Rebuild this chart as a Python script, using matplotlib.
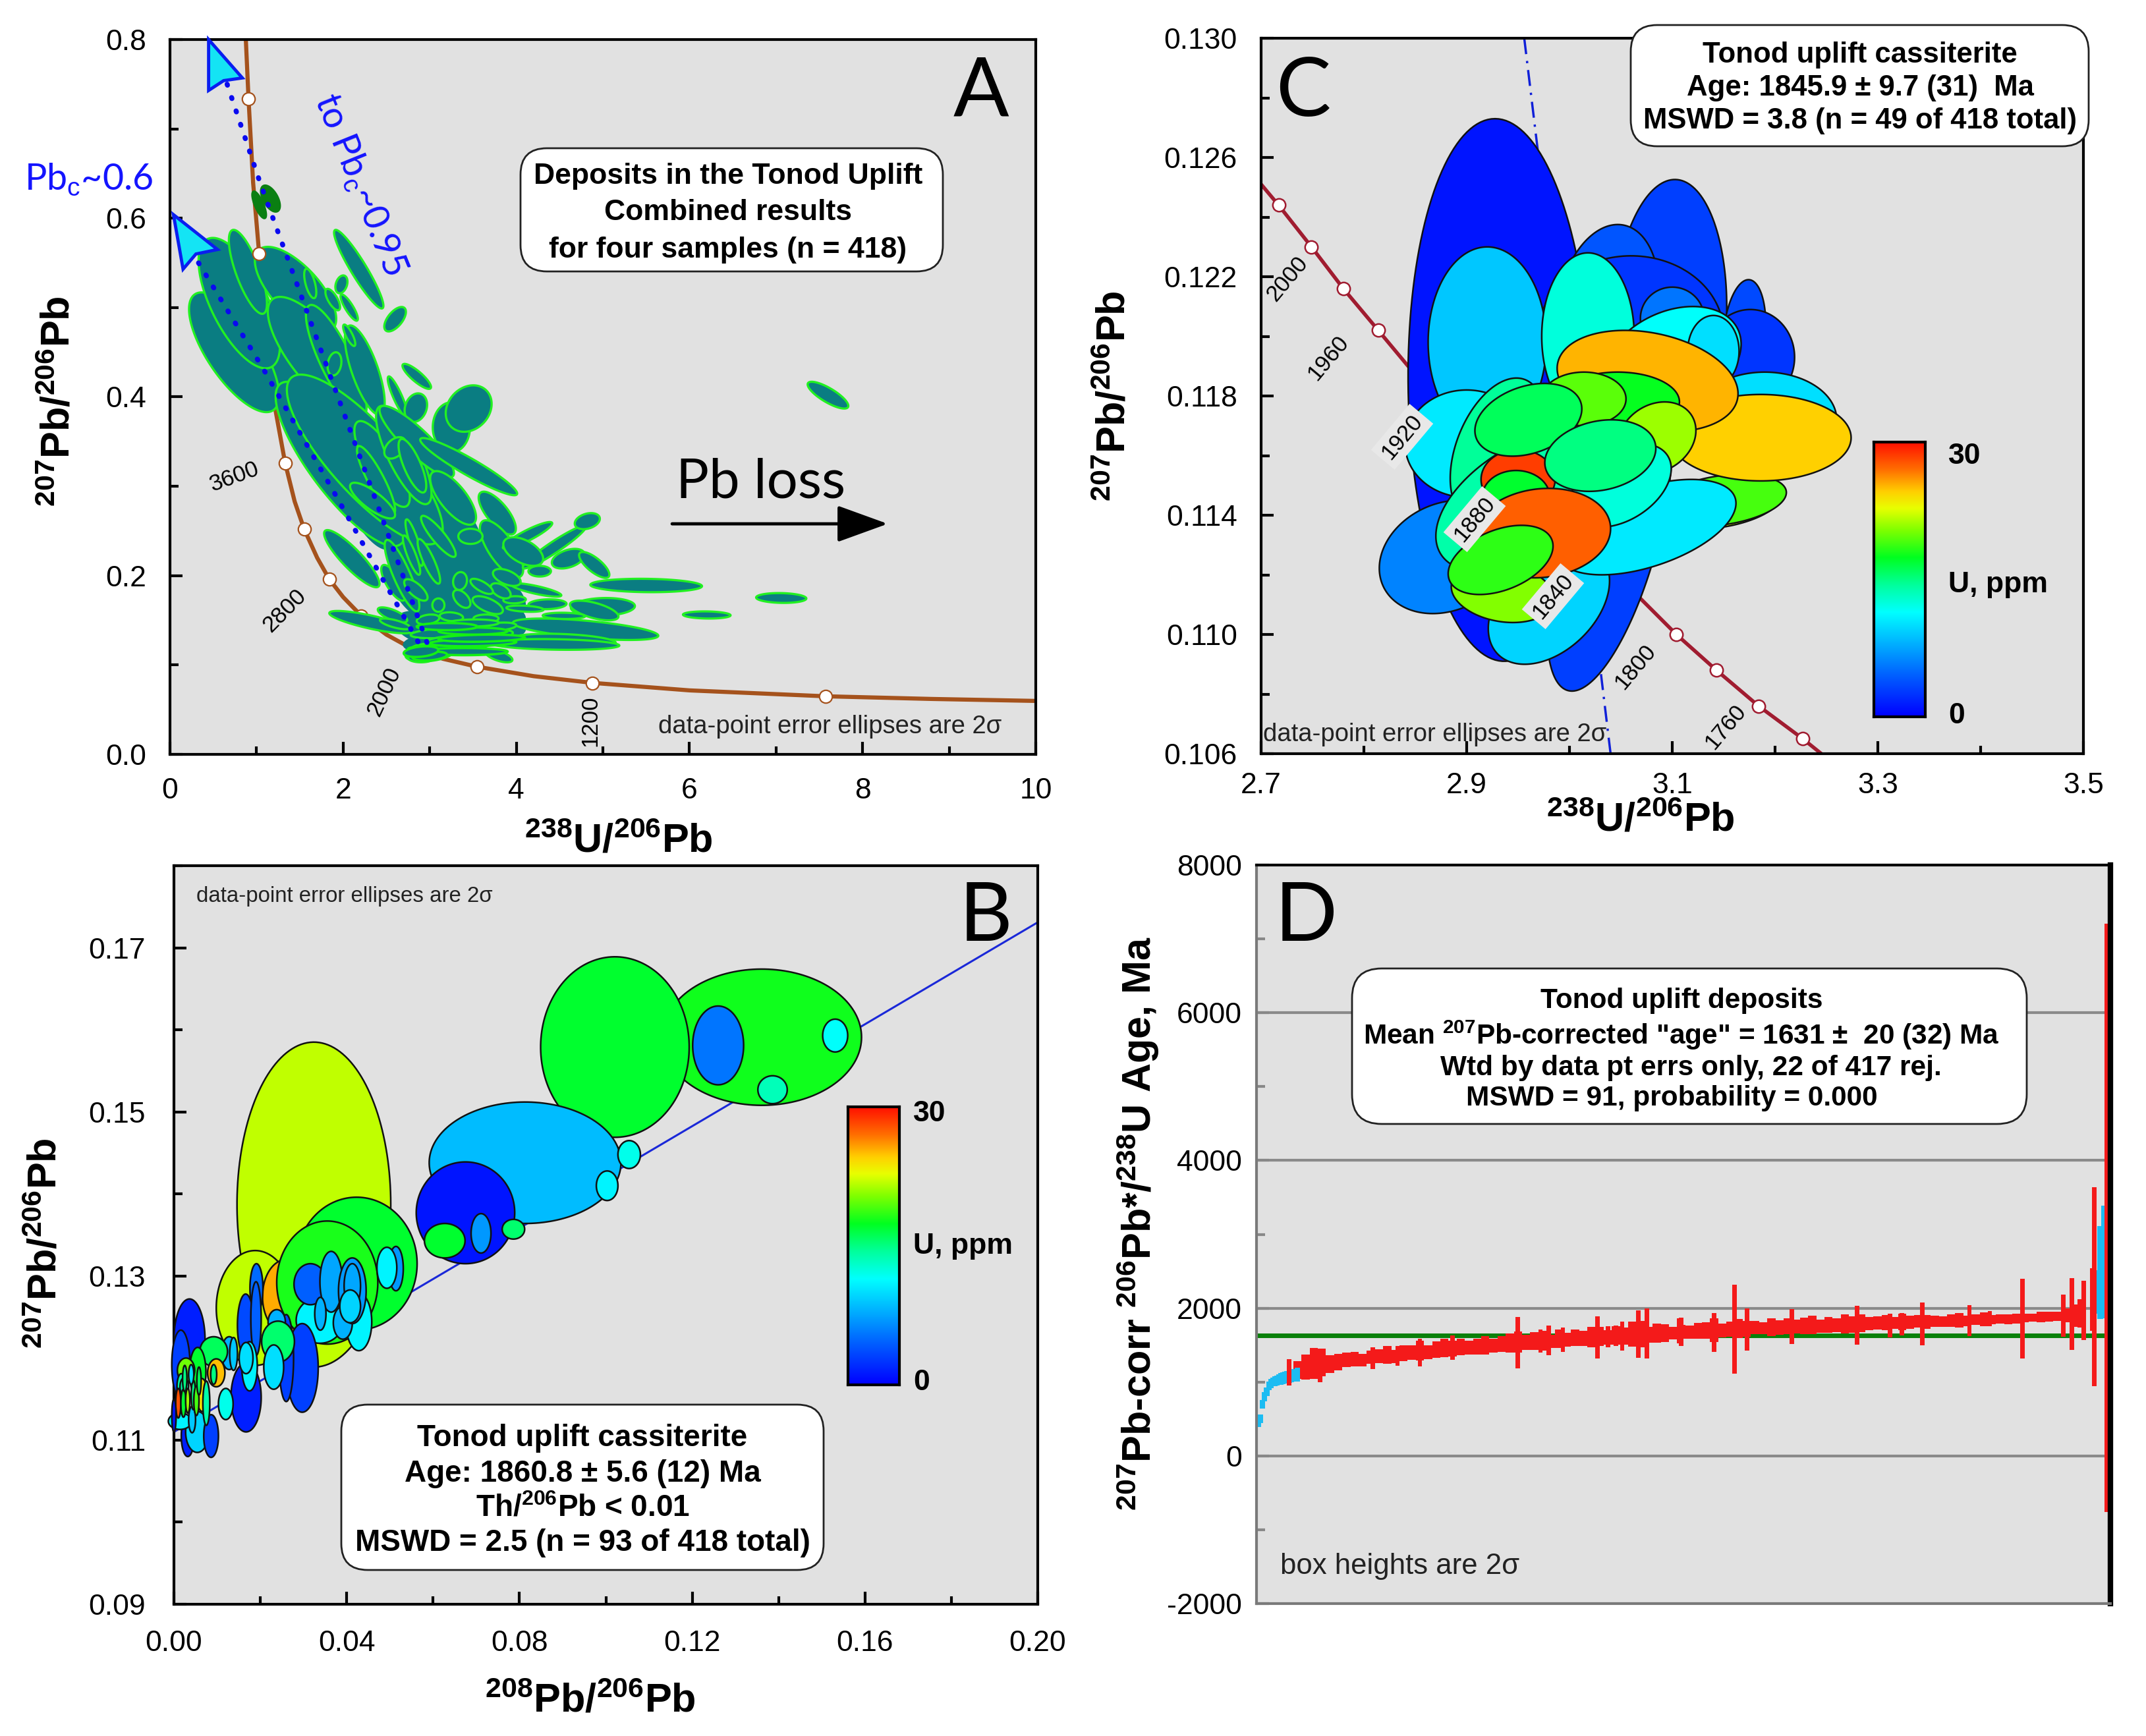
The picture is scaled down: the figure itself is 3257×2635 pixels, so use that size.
import numpy as np
import matplotlib
matplotlib.use("Agg")
import matplotlib.pyplot as plt
from matplotlib.colors import LinearSegmentedColormap
from matplotlib.patches import FancyBboxPatch, Polygon
from matplotlib.transforms import IdentityTransform
from matplotlib.ticker import MultipleLocator, FixedLocator

W, H = 3257, 2635
plt.rcParams['font.family'] = ['Liberation Sans', 'DejaVu Sans']
plt.rcParams['mathtext.fontset'] = 'custom'
plt.rcParams['mathtext.rm'] = 'Liberation Sans'
plt.rcParams['mathtext.bf'] = 'Liberation Sans:bold'

# ---------- panel A ellipses (238U/206Pb, 207Pb/206Pb, half extents, correlation)
A_under_cx = [1.5,1.9,2.2,2.5,2.7,3.0,3.3,3.0,3.4,3.0,3.5,3.2,3.5,3.3,2.95,3.7,3.6]
A_under_cy = [.40,.36,.30,.27,.23,.21,.19,.17,.16,.14,.14,.125,.22,.26,.29,.185,.16]
A_under_dx = [.35,.4,.4,.35,.3,.35,.4,.4,.5,.4,.6,.5,.4,.35,.35,.4,.5]
A_under_dy = [.07,.07,.07,.06,.06,.05,.04,.03,.025,.02,.015,.012,.04,.05,.06,.03,.02]
A_under_rho = [-.7,-.75,-.75,-.75,-.75,-.75,-.7,-.6,-.5,-.4,0,.2,-.7,-.8,-.8,-.6,-.4]

A_cx = [.74,.8,.9,1.45,1.7,1.92,2.25,1.62,2.18,1.98,2.07,2.6,2.07,2.85,2.63,2.84,3.25,3.45,1.88,
        1.8,1.97,2.25,2.45,2.7,2.85,1.9,3.45,3.27,3.78,3.83,4.13,4.44,4.82,4.6,4.9,4.27,4.08,
        5.5,7.06,6.2,7.6,5.0,4.9,4.8,4.55,4.45,3.8,2.32,2.1,4.23,3.98,4.36,4.1,4.55,3.47,3.89,
        3.82,3.67,3.6,3.35,3.37,3.1,3.25,2.98,3.65,3.1,2.82,2.99,2.79,2.38,2.34,2.6,2.8,2.58,
        2.68,2.84,2.57,2.6,3.17,3.3,3.24,3.0,2.9,3.8,3.78,3.5,1.16,1.03]
A_cy = [.45,.505,.54,.52,.446,.44,.43,.527,.543,.526,.5,.487,.469,.423,.40,.388,.366,.387,.509,
        .34,.325,.33,.325,.335,.35,.437,.322,.287,.27,.23,.245,.232,.261,.219,.212,.205,.227,
        .189,.175,.156,.402,.165,.161,.14,.127,.123,.11,.148,.219,.184,.173,.168,.163,.155,.244,.198,
        .183,.167,.188,.194,.174,.167,.154,.151,.152,.244,.237,.216,.223,.307,.284,.343,.323,.192,
        .2,.184,.156,.146,.136,.128,.121,.113,.108,.143,.134,.147,.622,.615]
A_dx = [.52,.47,.22,.47,.57,.35,.23,.07,.285,.07,.1,.125,.07,.165,.115,.13,.215,.265,.085,
        .45,.75,.9,.32,.32,.43,.08,.56,.265,.215,.25,.285,.365,.145,.19,.175,.13,.23,
        .645,.29,.275,.235,.37,.28,.84,.6,.74,.155,.48,.32,.29,.13,.22,.215,.245,.14,.16,
        .115,.175,.13,.08,.1,.07,.135,.13,.145,.2,.1,.13,.1,.22,.26,.125,.16,.14,
        .2,.135,.17,.175,.39,.32,.44,.28,.15,.2,.18,.3,.11,.08]
A_dy = [.067,.073,.047,.048,.066,.063,.05,.0165,.044,.01,.0147,.0137,.012,.014,.023,.016,.028,.026,.012,
        .063,.092,.095,.048,.055,.04,.013,.032,.03,.024,.032,.015,.024,.009,.011,.0145,.006,.016,
        .0075,.0055,.004,.015,.01,.011,.012,.008,.006,.007,.0125,.032,.0075,.004,.0055,.0035,.0035,.0085,.0095,
        .0085,.01,.0085,.01,.01,.0075,.005,.0055,.0045,.023,.026,.025,.022,.038,.02,.012,.03,.02,
        .04,.012,.0085,.006,.006,.005,.0055,.009,.005,.0045,.005,.004,.0147,.015]
A_rho = [-.72,-.65,-.75,-.68,-.75,-.82,-.72,-.6,-.93,.3,-.85,.6,-.8,-.85,-.88,.2,0,.2,-.7,
         -.78,-.82,-.82,-.78,-.78,-.88,.2,-.94,-.72,-.72,-.72,.9,.95,.3,.4,-.75,0,-.5,
         -.1,-.1,-.1,-.8,.1,-.6,-.6,-.3,-.2,-.6,-.8,-.88,-.8,.1,.1,-.3,-.1,0,-.5,
         -.5,-.6,-.7,.1,-.5,0,-.2,.3,0,-.88,-.85,-.85,-.85,-.88,-.8,.4,-.75,-.75,
         -.85,-.7,-.7,-.7,.4,.3,.3,.3,0,.3,.4,.1,-.55,-.75]
A_dark_green = 2   # the last two ellipses of A_cx are the dark green ones

A_base_cx = [3.2,3.4,3.5,3.6,3.0,2.9,3.5,3.2]
A_base_cy = [.118,.115,.125,.13,.11,.115,.138,.143]
A_base_dx = [.45,.5,.5,.5,.2,.2,.4,.35]
A_base_dy = [.004,.004,.004,.004,.005,.006,.004,.004]
A_base_rho = [0,0,.2,.2,.3,.3,0,0]

# concordia A
A_conc_x = [.876,.907,.96,1.03,1.1,1.2,1.33,1.44,1.55,1.7,1.84,2.0,2.21,2.5,2.8,3.15,3.55,4.2,4.88,6,7.57,8.8,10]
A_conc_y = [.8,.734,.64,.56,.48,.395,.326,.283,.252,.22,.196,.176,.155,.134,.118,.107,.098,.0875,.08,.0716,.065,.062,.0598]
A_mark_x = [.907,1.33,1.55,1.84,2.21,3.55,4.88,7.57]
A_mark_y = [.734,.326,.252,.196,.155,.098,.08,.065]
A_top_mark = (1.03, .56)
A_dot1_x = [.66,1.045,1.34,1.87,2.36,2.98]
A_dot1_y = [.75,.6385,.56,.4186,.289,.122]
A_dot2_x = [.33,1.08,1.92,2.37,2.9]
A_dot2_y = [.55,.431,.289,.211,.12]
A_arrow1_x = [.446,.836,.62,.446]
A_arrow1_y = [.8,.757,.754,.743]
A_arrow2_x = [.04,.549,.3,.151]
A_arrow2_y = [.604,.565,.56,.543]

# ---------- panel B ellipses (208Pb/206Pb, 207Pb/206Pb, half extents, U)
B_cx = [.1361,.1021,.126,.1531,.1386,.0813,.0675,.0627,.0711,.0786,.1003,.1054,
        .0324,.0188,.026,.0191,.0423,.0355,.0338,.0428,.0391,.0316,.0364,.0339,.0413,.0413,.0408,
        .0514,.0493,.0297,.026,.0238,.0241,.0231,.0167,.0166,.019,.0175,.0167,.0128,.0138,.012,
        .0036,.0016,.0032,.0054,.0086,.0092,.0098,.0055,.0028,.0017,.0065,.0014,.0075,.0042,
        .0024,.001,.0022,.0032,.0045,.0052,.0025,.004,.0058,.0092,.0]
B_cy = [.1591,.1579,.1581,.1593,.1527,.1438,.1377,.1343,.1352,.1357,.141,.1448,
        .1387,.1261,.1275,.1285,.1315,.1292,.1246,.1244,.1243,.129,.1293,.1254,.1282,.1288,.1263,
        .1309,.131,.1188,.12,.1244,.122,.1189,.1152,.124,.1248,.119,.12,.1206,.1205,.1144,
        .1222,.1192,.1105,.111,.1105,.1208,.1182,.1183,.1185,.1165,.1155,.1123,.1145,.1125,
        .1165,.1145,.1145,.1148,.1155,.1148,.1175,.118,.1172,.118,.113]
B_dx = [.0231,.0172,.0059,.0029,.0034,.0222,.0114,.0047,.0023,.0026,.0025,.0026,
        .0178,.009,.0055,.0015,.014,.0117,.0055,.003,.0022,.0038,.0026,.0013,.0032,.0019,.0024,
        .0017,.0023,.0037,.0017,.002,.0038,.0023,.0035,.0019,.0012,.0018,.0016,.0018,.0009,.0017,
        .0036,.0021,.0015,.0027,.0017,.0032,.002,.0019,.002,.001,.0012,.0027,.0008,.0008,
        .001,.0006,.0006,.0005,.0005,.0006,.0005,.0006,.0005,.0007,.0005]
B_dy = [.0083,.011,.0048,.002,.0017,.0074,.0062,.0021,.0024,.0012,.0018,.0017,
        .0198,.007,.0045,.003,.0081,.0075,.0028,.0035,.002,.0025,.0037,.002,.004,.0027,.002,
        .0027,.0025,.0054,.0053,.0015,.0025,.0027,.0042,.0038,.0045,.003,.0019,.002,.002,.0019,
        .005,.0042,.0025,.0025,.0026,.0018,.0017,.003,.0015,.0016,.002,.001,.0027,.0016,
        .0011,.0018,.0017,.0015,.0018,.0018,.0016,.0012,.0017,.0012,.002]
B_u = [17.8,17,5.5,11.5,13.5,8.5,1,17,7,15.5,11,12,
       21.8,21.8,25.5,5,17,18,11,11,8,4.5,7.5,8,7,7.5,9.5,
       7,11,3,3,8,15.5,10,1.5,3.5,4.5,11,10,8,9,12,
       1.5,3,1.5,9.5,3,16,25,17,20,14,24,11,14,9,
       14,28,17,21,15,19,15,10,16,15,1]
B_line_x = [0.0, 0.2]
B_line_y = [.111, .1731]

# ---------- panel C ellipses
C_cx = [2.932,3.039,3.097,3.037,3.17,3.176,3.06,3.10,2.905,2.92,3.018,3.10,3.14,2.90,2.98,2.88,2.935,
        3.143,3.148,3.19,3.186,3.076,3.075,2.93,2.96,3.047,3.014,3.085,3.05,2.95,2.948,2.96,3.03,2.973,2.933]
C_cy = [.1182,.1133,.1205,.121,.12,.1193,.1201,.1206,.1193,.1198,.12,.1192,.1195,.1164,.111,.1126,.1114,
        .1144,.1145,.1172,.1166,.1185,.1136,.1162,.1145,.1178,.1179,.1166,.115,.1152,.1146,.1172,.116,.1134,.1125]
C_dx = [.089,.061,.056,.05,.021,.043,.09,.031,.03,.0575,.045,.067,.025,.06,.059,.065,.05,
        .063,.063,.07,.088,.088,.087,.046,.09,.06,.041,.038,.049,.036,.033,.052,.054,.067,.051]
C_dy = [.0091,.0052,.00476,.00275,.0019,.0016,.0026,.00105,.001,.0032,.0028,.0018,.0012,.0018,.002,.0019,.001,
        .00087,.00087,.0016,.00145,.0017,.0016,.0024,.0024,.001,.0009,.0012,.0014,.001,.0009,.00122,.0012,.0015,.00116]
C_rho = [-.05,.6,.1,.2,.2,0,0,0,0,0,0,.3,0,0,.4,.2,-.2,.3,.3,0,0,-.25,.5,.4,.5,0,0,.2,.4,0,0,.3,.2,.1,.4]
C_u = [1,3,3,4,3.5,2.5,2.5,5.5,15,9,12.5,11.5,10,10.5,9.5,6,20.5,
       22,19,10,24.6,25.2,10.5,14.5,14,17.5,19.5,21,12.5,28.5,17,16,15,27.5,18.5]
C_mark_x = [2.717,2.749,2.78,2.814,3.104,3.143,3.184,3.227]
C_mark_y = [.1244,.123,.1216,.1202,.11,.1088,.1076,.1065]
C_conc_x = [2.7,2.717,2.749,2.78,2.814,2.843,3.104,3.143,3.184,3.227,3.245]
C_conc_y = [.1251,.1244,.123,.1216,.1202,.119,.11,.1088,.1076,.1065,.106]
C_chord_x = [2.956,3.04]
C_chord_y = [.13,.106]

# ---------- panel D: ranked ages
D_rank0 = 20
D_step = 4
D_age = [1165,1200,1250,1265,1245,1270,1300,1310,1300,1335,1350,1365,1345,1390,1400,1425,1405,1440,1460,1450,
         1475,1465,1480,1500,1495,1515,1530,1540,1535,1555,1560,1550,1585,1575,1600,1590,1610,1620,1605,1630,
         1625,1645,1650,1640,1660,1665,1660,1680,1675,1695,1700,1705,1695,1715,1725,1720,1735,1730,1745,1740,
         1755,1750,1760,1770,1755,1775,1770,1785,1780,1795,1790,1800,1805,1800,1815,1810,1820,1815,1825,1820,
         1830,1835,1830,1845,1850,1845,1855,1850,1860,1865,1870,1880,1885,1890,1900,1900,1930]
D_err = [120,170,210,190,120,110,95,100,85,90,95,120,85,110,100,130,95,110,125,105,
         115,90,105,125,95,110,130,140,105,120,135,90,125,95,110,105,140,130,100,125,
         115,170,180,110,130,120,85,95,90,105,110,160,95,100,130,105,90,80,120,100,
         110,95,115,125,90,105,95,130,110,120,90,85,105,80,110,90,85,95,75,70,
         85,95,70,75,90,65,60,70,65,60,55,70,65,60,95,150,190]
D_spike_rank = [16,31,57,69,80,96,128,139,143,150,167,172,176,179,187,191,207,208,224,234,240,262,294,310,316,326,349,359,375,395,399,405,409,410,416.2]
D_spike_age = [1130,1190,1322,1352,1400,1470,1534,1553,1567,1575,1600,1612,1627,1622,1650,1660,1690,1679,1670,1715,1710,1750,1770,1765,1785,1790,1830,1860,1855,1900,1920,1970,2115,2290,3223]
D_spike_err = [180,195,150,135,190,165,350,155,200,165,285,140,140,195,320,340,170,195,265,600,285,235,265,160,150,290,210,100,540,285,490,400,425,1350,3983]
D_cyan_rank = [1,2,3,4,5,6,7,8,9,10,11,12,13,14,15,16,17,18,19,20,411,413,414.8]
D_cyan_age = [450,500,700,800,870,950,980,1000,1010,1020,1030,1040,1050,1060,1065,1070,1080,1090,1095,1100,2220,2480,2625]
D_cyan_err = [60,60,60,60,60,60,60,60,70,70,70,80,80,80,80,80,80,85,85,90,295,630,765]
D_mean = 1631
D_grid = [0,2000,4000,6000]

cmap_stops = [(0,'#0000ff'),(.15,'#0060ff'),(.3,'#00c8ff'),(.38,'#00ffff'),(.48,'#00ff9c'),
              (.58,'#00ff20'),(.68,'#7fff00'),(.76,'#e8ff00'),(.82,'#ffd000'),(.9,'#ff7000'),(1,'#ff1000')]
ucmap = LinearSegmentedColormap.from_list('u', cmap_stops, N=256)

BG = '#e1e1e1'
fig = plt.figure(figsize=(W/100, H/100), dpi=100, facecolor='white')

def make_ax(x0, x1, y0, y1, xpad=16, ypad=16):
    ax = fig.add_axes([x0/W, 1-y1/H, (x1-x0)/W, (y1-y0)/H], facecolor=BG)
    ax.tick_params(which='major', direction='in', length=14, width=3, labelsize=32)
    ax.tick_params(axis='x', which='major', pad=xpad)
    ax.tick_params(axis='y', which='major', pad=ypad)
    ax.tick_params(which='minor', direction='in', length=9, width=3)
    ax.tick_params(top=False, right=False, which='both')
    for s in ax.spines.values():
        s.set_linewidth(3)
    return ax

def ell(ax, cx, cy, dx, dy, rho, **kw):
    t = np.linspace(0, 2*np.pi, 160)
    a = np.arccos(rho)
    ax.fill(cx + dx*np.cos(t), cy + dy*np.cos(t - a), **kw)

def T(px, py, s, **kw):
    kw.setdefault('ha', 'center'); kw.setdefault('va', 'center')
    return fig.text(px/W, 1-py/H, s, **kw)

def box(x0, y0, x1, y1, r=40):
    fig.add_artist(FancyBboxPatch((x0+r, H-y1+r), x1-x0-2*r, y1-y0-2*r,
                                  boxstyle=f'round,pad={r},rounding_size={r}', fc='white', ec='#222222',
                                  lw=2, transform=IdentityTransform(), zorder=5))

def cbar(x0, x1, y0, y1):
    c = fig.add_axes([x0/W, 1-y1/H, (x1-x0)/W, (y1-y0)/H], zorder=6)
    c.imshow(np.linspace(30, 0, 256)[:, None], cmap=ucmap, vmin=0, vmax=30, aspect='auto')
    c.set_xticks([]); c.set_yticks([])
    for s in c.spines.values():
        s.set_linewidth(3)

lab = dict(fontsize=44, fontweight='bold')
def bt(size):
    return dict(fontsize=size, fontweight='bold', zorder=7)
let = dict(fontsize=90, family='Lato', zorder=7)
ct = dict(fontsize=32, fontweight='bold', ha='left', zorder=7)

# ================ A
a = make_ax(258, 1572, 60, 1145, xpad=25, ypad=26)
a.set_xlim(0, 10); a.set_ylim(0, .8)
a.xaxis.set_major_locator(MultipleLocator(2)); a.xaxis.set_minor_locator(MultipleLocator(1))
a.yaxis.set_major_locator(MultipleLocator(.2)); a.yaxis.set_minor_locator(MultipleLocator(.1))
a.xaxis.set_major_formatter(lambda v, p: f'{v:.0f}')
a.yaxis.set_major_formatter(lambda v, p: f'{v:.1f}')
a.plot(A_conc_x, A_conc_y, color='#a5521c', lw=4.5, zorder=2, solid_capstyle='butt')
a.plot(A_mark_x, A_mark_y, 'o', ms=14, mfc='white', mec='#a5521c', mew=1.6, zorder=2.1)
teal, lime, dgreen = '#0a7d82', '#22f022', '#0a7f12'
for i in range(len(A_under_cx)):
    ell(a, A_under_cx[i], A_under_cy[i], A_under_dx[i], A_under_dy[i], A_under_rho[i], fc=teal, ec=teal, lw=2, zorder=2.9)
n = len(A_cx)
for i in range(n - A_dark_green):
    ell(a, A_cx[i], A_cy[i], A_dx[i], A_dy[i], A_rho[i], fc=teal, ec=lime, lw=2.4, zorder=3)
for i in range(len(A_base_cx)):
    ell(a, A_base_cx[i], A_base_cy[i], A_base_dx[i], A_base_dy[i], A_base_rho[i], fc=teal, ec='#14f014', lw=2.6, zorder=3)
for i in range(n - A_dark_green, n):
    ell(a, A_cx[i], A_cy[i], A_dx[i], A_dy[i], A_rho[i], fc=dgreen, ec=dgreen, lw=2.2, zorder=3)
a.plot(A_dot1_x, A_dot1_y, color='#0a0af0', lw=5.5, ls=(0, (.2, 2.6)), dash_capstyle='round', zorder=4)
a.plot(A_dot2_x, A_dot2_y, color='#0a0af0', lw=5.5, ls=(0, (.2, 2.6)), dash_capstyle='round', zorder=4)
a.plot(*A_top_mark, 'o', ms=14, mfc='white', mec='#a5521c', mew=1.6, zorder=4.5)
for px, py in ((A_arrow1_x, A_arrow1_y), (A_arrow2_x, A_arrow2_y)):
    a.add_patch(Polygon(np.c_[px, py], fc='#14e4f4', ec='#0a1ef0', lw=3.5, zorder=4.6, clip_on=False, joinstyle='miter'))
a.annotate('', xy=(8.29, .258), xytext=(5.8, .258),
           arrowprops=dict(arrowstyle='-|>,head_length=1.6,head_width=.58', mutation_scale=30, color='black',
                           lw=3.5, shrinkA=0, shrinkB=0), zorder=5)
T(1489, 140, 'A', **let)
T(1155, 732, 'Pb loss', fontsize=60, family='Lato')
T(135, 272, r'Pb$_{\mathrm{c}}$~0.6', fontsize=40, color='#1414ff', family='Lato')
T(546, 280, r'to Pb$_{\mathrm{c}}$~0.95', fontsize=40, color='#1414ff', family='Lato', rotation=-68)
T(356, 724, '3600', fontsize=25, rotation=20, zorder=7)
T(432, 927, '2800', fontsize=25, rotation=45, zorder=7)
T(583, 1050, '2000', fontsize=25, rotation=65, zorder=7)
T(896, 1094, '1200', fontsize=25, rotation=90, zorder=7)
T(1260, 1103, 'data-point error ellipses are 2σ', fontsize=27.5, color='#222222')
box(790, 225, 1431, 412)
T(1105, 267, 'Deposits in the Tonod Uplift', **bt(32))
T(1105, 322, 'Combined results', **bt(32))
T(1105, 380, 'for four samples (n = 418)', **bt(32))
T(939, 1278, r'$\mathbf{^{238}U/^{206}Pb}$', **lab)
T(90, 609, r'$\mathbf{^{207}Pb/^{206}Pb}$', rotation=90, **lab)

# ================ C
c = make_ax(1914, 3162, 58, 1144, xpad=20, ypad=26)
c.set_xlim(2.7, 3.5); c.set_ylim(.106, .130)
c.xaxis.set_major_locator(FixedLocator([2.7, 2.9, 3.1, 3.3, 3.5])); c.xaxis.set_minor_locator(MultipleLocator(.1))
c.yaxis.set_major_locator(FixedLocator([.106, .110, .114, .118, .122, .126, .130])); c.yaxis.set_minor_locator(MultipleLocator(.002))
c.xaxis.set_major_formatter(lambda v, p: f'{v:.1f}')
c.yaxis.set_major_formatter(lambda v, p: f'{v:.3f}')
c.plot(C_chord_x, C_chord_y, color='#1020d8', lw=2.5, ls=(0, (7, 3, 1, 3)), zorder=1.5)
c.plot(C_conc_x, C_conc_y, color='#a01c30', lw=4, zorder=2)
c.plot(C_mark_x, C_mark_y, 'o', ms=14, mfc='white', mec='#a01c30', mew=1.8, zorder=2.1)
for i in range(len(C_cx)):
    ell(c, C_cx[i], C_cy[i], C_dx[i], C_dy[i], C_rho[i], fc=ucmap(C_u[i]/30), ec='#111111', lw=1.8, zorder=3)
T(1978, 141, 'C', **let)
for px, py, s, bx in ((1954, 423, '2000', False), (2016, 543, '1960', False), (2128, 663, '1920', True),
                      (2238, 788, '1880', True), (2357, 905, '1840', True), (2482, 1012, '1800', False),
                      (2619, 1103, '1760', False)):
    kw = dict(bbox=dict(fc='#e8e8e8', ec='none', pad=5)) if bx else {}
    T(px, py, s, fontsize=25, rotation=50, zorder=7, **kw)
T(2178, 1115, 'data-point error ellipses are 2σ', fontsize=27.5, color='#222222', zorder=7)
cbar(2844, 2922, 671, 1088)
T(2957, 692, '30', **ct); T(2957, 887, 'U, ppm', **ct); T(2957, 1086, '0', **ct)
box(2475, 38, 3170, 222)
T(2823, 83, 'Tonod uplift cassiterite', **bt(31.5))
T(2823, 134, 'Age: 1845.9 ± 9.7 (31)  Ma', **bt(31.5))
T(2823, 184, 'MSWD = 3.8 (n = 49 of 418 total)', **bt(31.5))
T(2490, 1246, r'$\mathbf{^{238}U/^{206}Pb}$', **lab)
T(1692, 601, r'$\mathbf{^{207}Pb/^{206}Pb}$', rotation=90, **lab)

# ================ B
b = make_ax(264, 1575, 1314, 2435, xpad=28, ypad=31)
b.set_xlim(0, .2); b.set_ylim(.09, .18)
b.xaxis.set_major_locator(MultipleLocator(.04)); b.xaxis.set_minor_locator(MultipleLocator(.02))
b.yaxis.set_major_locator(FixedLocator([.09, .11, .13, .15, .17])); b.yaxis.set_minor_locator(MultipleLocator(.01))
b.xaxis.set_major_formatter(lambda v, p: f'{v:.2f}')
b.yaxis.set_major_formatter(lambda v, p: f'{v:.2f}')
b.plot(B_line_x, B_line_y, color='#1a28d8', lw=2.2, zorder=1.5)
for i in range(len(B_cx)):
    ell(b, B_cx[i], B_cy[i], B_dx[i], B_dy[i], 0, fc=ucmap(B_u[i]/30), ec='#111111', lw=1.8, zorder=3, clip_on=False)
T(1496, 1393, 'B', **let)
T(523, 1360, 'data-point error ellipses are 2σ', fontsize=23.8, color='#222222', zorder=7)
cbar(1287, 1365, 1680, 2102)
T(1386, 1690, '30', **ct); T(1386, 1892, 'U, ppm', **ct); T(1386, 2098, '0', **ct)
box(518, 2132, 1250, 2383)
T(884, 2183, 'Tonod uplift cassiterite', **bt(33))
T(884, 2237, 'Age: 1860.8 ± 5.6 (12) Ma', **bt(33))
T(884, 2290, r'Th/$\mathbf{^{206}}$Pb < 0.01', **bt(33))
T(884, 2342, 'MSWD = 2.5 (n = 93 of 418 total)', **bt(33))
T(896, 2583, r'$\mathbf{^{208}Pb/^{206}Pb}$', **lab)
T(70, 1887, r'$\mathbf{^{207}Pb/^{206}Pb}$', rotation=90, **lab)

# ================ D
d = make_ax(1907, 3203, 1313, 2434)
d.set_xlim(0, 418); d.set_ylim(-2000, 8000)
d.xaxis.set_major_locator(FixedLocator([]))
d.yaxis.set_major_locator(MultipleLocator(2000)); d.yaxis.set_minor_locator(MultipleLocator(1000))
d.tick_params(which='both', left=True, color='#888888')
d.yaxis.set_major_formatter(lambda v, p: f'{v:.0f}')
for s in ('left', 'bottom'):
    d.spines[s].set_color('#7a7a7a')
d.spines['right'].set_linewidth(6)
for g in D_grid:
    d.axhline(g, color='#8a8a8a', lw=3, zorder=1)
d.axhline(D_mean, color='#0a800a', lw=5, zorder=1.5)
ranks = D_rank0 + D_step*np.arange(len(D_age))
d.bar(ranks, 2*np.array(D_err), bottom=np.array(D_age)-np.array(D_err), width=D_step, color='#f41a1a', zorder=2)
d.bar(D_cyan_rank, 2*np.array(D_cyan_err), bottom=np.array(D_cyan_age)-np.array(D_cyan_err),
      width=2.6, color='#1cbcf2', zorder=2.2)
d.bar(D_spike_rank, 2*np.array(D_spike_err), bottom=np.array(D_spike_age)-np.array(D_spike_err),
      width=2.2, color='#f41a1a', zorder=2.5, clip_on=False)
T(1982, 1393, 'D', **let)
T(2125, 2377, 'box heights are 2σ', fontsize=31.5, color='#222222')
box(2052, 1470, 3076, 1706, r=45)
T(2552, 1519, 'Tonod uplift deposits', **bt(30.5))
T(2552, 1571, r'Mean $\mathbf{^{207}}$Pb-corrected "age" = 1631 ±  20 (32) Ma', **bt(30.5))
T(2566, 1621, 'Wtd by data pt errs only, 22 of 417 rej.', **bt(30.5))
T(2537, 1667, 'MSWD = 91, probability = 0.000', **bt(30.5))
T(1727, 1857, r'$\mathbf{^{207}}$Pb-corr $\mathbf{^{206}}$Pb*/$\mathbf{^{238}}$U Age, Ma', rotation=90, **lab)

fig.savefig('out.png', dpi=100, facecolor='white')
